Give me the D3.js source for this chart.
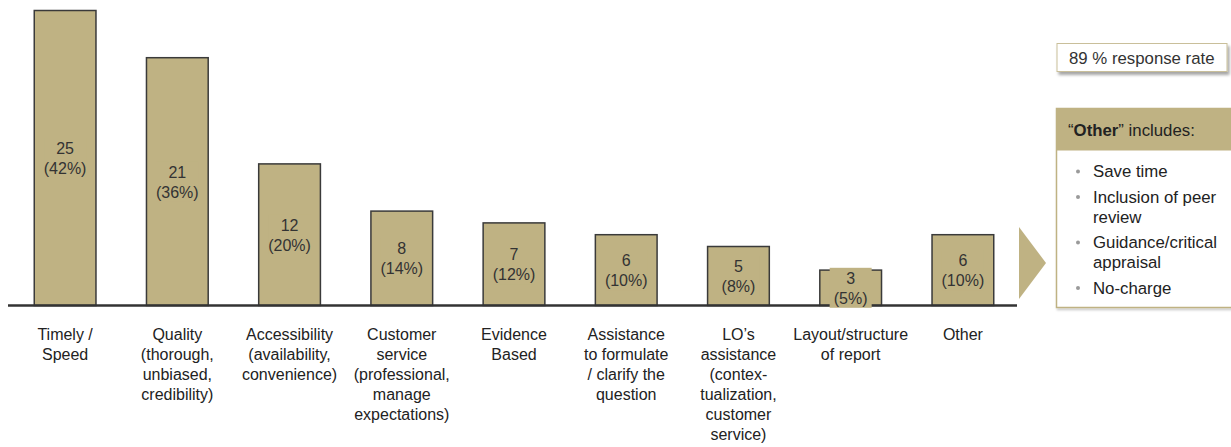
<!DOCTYPE html>
<html lang="en">
<head>
<meta charset="UTF-8" />
<title>Reasons for using the service</title>
<style>
  body { margin: 0; background: #fff; }
  svg { display: block; font-family: "Liberation Sans", Arial, sans-serif; }
</style>
</head>
<body>
<svg width="1231" height="447"></svg>
<script src="https://d3js.org/d3.v7.min.js"></script>
<script>
// chart data
var categories = [
  ["Timely /", "Speed"],
  ["Quality", "(thorough,", "unbiased,", "credibility)"],
  ["Accessibility", "(availability,", "convenience)"],
  ["Customer", "service", "(professional,", "manage", "expectations)"],
  ["Evidence", "Based"],
  ["Assistance", "to formulate", "/ clarify the", "question"],
  ["LO\u2019s", "assistance", "(contex-", "tualization,", "customer", "service)"],
  ["Layout/structure", "of report"],
  ["Other"]
];
var counts = [25, 21, 12, 8, 7, 6, 5, 3, 6];
var percents = [42, 36, 20, 14, 12, 10, 8, 5, 10];

var responseRate = "89 % response rate";
var otherItems = [
  ["Save time"],
  ["Inclusion of peer", "review"],
  ["Guidance/critical", "appraisal"],
  ["No-charge"]
];

var tan = "#bfb283",
    ink = "#333";

var svg = d3.select("svg");

var defs = svg.append("defs");
var f = defs.append("filter").attr("id", "shadow")
    .attr("x", "-10%").attr("y", "-20%").attr("width", "130%").attr("height", "160%");
f.append("feDropShadow").attr("dx", 2).attr("dy", 3).attr("stdDeviation", 1.8)
    .attr("flood-color", "#000").attr("flood-opacity", 0.35);
var f2 = defs.append("filter").attr("id", "shadow2")
    .attr("x", "-10%").attr("y", "-10%").attr("width", "130%").attr("height", "130%");
f2.append("feDropShadow").attr("dx", 1).attr("dy", 2).attr("stdDeviation", 1)
    .attr("flood-color", "#000").attr("flood-opacity", 0.2);

var baseY = 305.5;
var x = d3.scaleBand().domain(d3.range(counts.length)).range([9, 1019]).paddingInner(0.45).paddingOuter(0.225);
var y = d3.scaleLinear().domain([0, 25]).range([baseY, 10.5]);

var g = svg.append("g");

// bars
g.selectAll(".bar")
  .data(counts)
  .enter().append("rect")
    .attr("class", "bar")
    .attr("x", function(d, i) { return x(i); })
    .attr("y", function(d) { return y(d); })
    .attr("width", x.bandwidth())
    .attr("height", function(d) { return baseY - y(d); })
    .attr("fill", tan)
    .attr("stroke", "#3a3a3a")
    .attr("stroke-width", 1.5);

// baseline
g.append("line")
  .attr("x1", 8).attr("x2", 1017)
  .attr("y1", baseY).attr("y2", baseY)
  .attr("stroke", "#333").attr("stroke-width", 2.5);

// value labels (with a tan patch behind, shows on the short bar)
var lab = g.selectAll(".val")
  .data(counts)
  .enter().append("g")
    .attr("class", "val")
    .attr("transform", function(d, i) {
      return "translate(" + (x(i) + x.bandwidth() / 2) + "," + ((y(d) + baseY) / 2) + ")";
    });

lab.append("rect")
  .attr("x", -21).attr("y", -20).attr("width", 42).attr("height", 40)
  .attr("fill", tan);

lab.append("text")
  .attr("text-anchor", "middle")
  .attr("font-size", 16).attr("fill", ink)
  .attr("y", -4)
  .text(function(d) { return d; });

lab.append("text")
  .attr("text-anchor", "middle")
  .attr("font-size", 16).attr("fill", ink)
  .attr("y", 16)
  .text(function(d, i) { return "(" + percents[i] + "%)"; });

// category labels
var cat = g.selectAll(".cat")
  .data(categories)
  .enter().append("text")
    .attr("class", "cat")
    .attr("text-anchor", "middle")
    .attr("font-size", 16).attr("fill", "#222")
    .attr("x", function(d, i) { return x(i) + x.bandwidth() / 2; })
    .attr("y", 340);

cat.selectAll("tspan")
  .data(function(d) { return d; })
  .enter().append("tspan")
    .attr("x", function() { return d3.select(this.parentNode).attr("x"); })
    .attr("dy", function(d, i) { return i ? 20 : 0; })
    .text(function(d) { return d; });

// arrow
svg.append("path")
  .attr("d", "M1019,227 L1046,263 L1019,299 Z")
  .attr("fill", tan);

// response rate box
svg.append("rect")
  .attr("x", 1057).attr("y", 43.5).attr("width", 170).attr("height", 28)
  .attr("fill", "#fff").attr("stroke", "#c9bf9a").attr("stroke-width", 1)
  .attr("filter", "url(#shadow)");

svg.append("text")
  .attr("x", 1069).attr("y", 64)
  .attr("font-size", 16.8).attr("fill", ink)
  .text(responseRate);

// "Other" includes box
svg.append("rect")
  .attr("x", 1056.5).attr("y", 108.5).attr("width", 180).attr("height", 199)
  .attr("fill", "#fff").attr("stroke", tan).attr("stroke-width", 1.5)
  .attr("filter", "url(#shadow2)");

svg.append("rect")
  .attr("x", 1056.5).attr("y", 108.5).attr("width", 180).attr("height", 42)
  .attr("fill", tan);

var hdr = svg.append("text")
  .attr("x", 1068).attr("y", 136)
  .attr("font-size", 16.8).attr("fill", "#222");
hdr.append("tspan").text("\u201c");
hdr.append("tspan").attr("font-weight", "bold").text("Other");
hdr.append("tspan").text("\u201d includes:");

var itemY = 177;
otherItems.forEach(function(lines) {
  svg.append("circle")
    .attr("cx", 1078).attr("cy", itemY - 5.5).attr("r", 2)
    .attr("fill", "#9a9a9a");
  lines.forEach(function(line, j) {
    svg.append("text")
      .attr("x", 1093).attr("y", itemY + j * 20)
      .attr("font-size", 16.8).attr("fill", "#222")
      .text(line);
  });
  itemY += (lines.length - 1) * 20 + 25.5;
});
</script>
</body>
</html>
